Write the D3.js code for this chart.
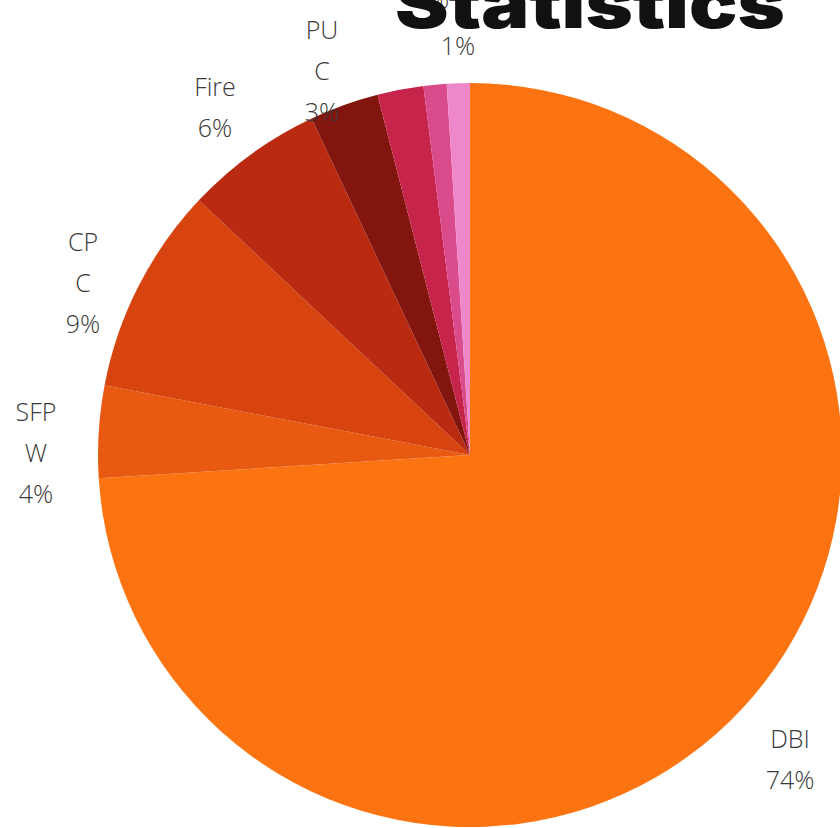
<!DOCTYPE html>
<html>
<head>
<meta charset="utf-8">
<script src="https://cdn.jsdelivr.net/npm/d3@7"></script>
<style>
  html, body { margin: 0; padding: 0; background: #fff; }
  svg { display: block; }
</style>
</head>
<body>
<div id="chart"></div>
<script>
// données
let categories = ["DBI", "SFPW", "CPC", "Fire", "PUC", "Other A", "Other B", "Other C"];
let values = [74, 4, 9, 6, 3, 2, 1, 1];
let colors = ["#fb7411", "#e85a12", "#d8440f", "#ba2a10", "#83150f", "#c6244a", "#da4b8c", "#ee88cb"];
// lignes de chaque étiquette (le nom est coupé sur plusieurs lignes)
let labelLines = [["DBI", "74%"], ["SFP", "W", "4%"], ["CP", "C", "9%"], ["Fire", "6%"], ["PU", "C", "3%"], ["2%"], ["1%"], []];
// centre de chaque étiquette (x, y de la première ligne)
let labelPos = [[790, 748], [36, 421], [83, 251], [215, 96], [322, 39], [432, 8], [458, 55], [0, 0]];

let width = 840, height = 828;
let cx = 470, cy = 455, radius = 372;

let svg = d3.select("#chart")
  .append("svg")
  .attr("width", width)
  .attr("height", height);

let pie = d3.pie().sort(null).value(function(d) { return d; });
let arc = d3.arc().innerRadius(0).outerRadius(radius);

let g = svg.append("g")
  .attr("transform", "translate(" + cx + "," + cy + ")");

g.selectAll("path")
  .data(pie(values))
  .enter()
  .append("path")
  .attr("d", arc)
  .attr("fill", function(d, i) { return colors[i]; });

// étiquettes
let labels = svg.append("g")
  .selectAll("text")
  .data(categories)
  .enter()
  .append("text")
  .attr("text-anchor", "middle")
  .attr("font-family", "'Open Sans', sans-serif")
  .attr("font-weight", 300)
  .attr("font-size", 25)
  .attr("fill", "#3a3a3a")
  .attr("transform", function(d, i) {
    return "translate(" + labelPos[i][0] + "," + labelPos[i][1] + ")";
  });

labels.selectAll("tspan")
  .data(function(d, i) { return labelLines[i]; })
  .enter()
  .append("tspan")
  .attr("x", 0)
  .attr("dy", function(d, j) { return j === 0 ? 0 : 41; })
  .text(function(d) { return d; });

// titre coupé en haut
svg.append("text")
  .attr("x", 395)
  .attr("y", 28)
  .attr("font-family", "Inter, 'DejaVu Sans', sans-serif")
  .attr("font-weight", 900)
  .attr("font-size", 68)
  .attr("fill", "#111")
  .attr("textLength", 390)
  .attr("lengthAdjust", "spacingAndGlyphs")
  .text("Statistics");
</script>
</body>
</html>
